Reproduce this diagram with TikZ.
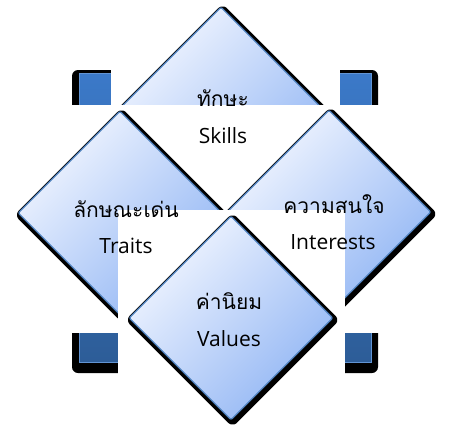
\documentclass[tikz,border=0pt]{standalone}
\usepackage{fontspec}
\setmainfont{Open Sans}
\newfontfamily\thaifont[Script=Thai]{Loma}
\usetikzlibrary{positioning}

\definecolor{tilelight}{HTML}{F2F6FF}
\definecolor{tiledark}{HTML}{92B6F4}
\definecolor{tileedge}{HTML}{4F81BD}
\definecolor{platetop}{HTML}{3B79C8}
\definecolor{platebottom}{HTML}{2D5D98}

\begin{document}
\begin{tikzpicture}[
    x=1pt, y=-1pt,
    tile/.style={rectangle, rotate=45, minimum size=144pt, inner sep=0pt,
        rounded corners=2pt, draw=tileedge, line width=1.3pt,
        top color=tilelight, bottom color=tiledark, shading angle=45,
        preaction={draw=black, fill=black, line width=7.5pt, line join=round,
            transform canvas={shift={(1.6pt,-2pt)}}}},
    blank/.style={fill=white, draw=none},
    thai/.style={font=\thaifont\fontsize{21}{24}\selectfont, inner sep=0pt, anchor=base},
    eng/.style={font=\fontsize{21}{24}\selectfont, inner sep=0pt, anchor=base}
]

% Frame
\fill[white] (0,0) rectangle (451,432);
\useasboundingbox (0,0) rectangle (451,432);

% Back plate
\fill[black, rounded corners=6pt] (72,70) rectangle (378,373);
\shade[top color=platetop, bottom color=platebottom, draw=platetop!80!white, line width=0.6pt]
    (79,73) rectangle (371,362);

% White cut-outs and tiles, back to front
\fill[blank] (111,62) rectangle (340,105);
\node[tile] (skills) at (221,109) {};
\fill[blank] (60,105) rectangle (392,333);
\node[tile] (traits) at (120,213) {};
\node[tile] (interests) at (329,212) {};
\fill[blank] (118,210) rectangle (345,376);
\node[tile] (values) at (231,318) {};

% Labels
\node[thai] (skillsTh) at (223,106) {ทักษะ};
\node[eng] (skillsEn) at (223,143) {Skills};
\node[thai] (traitsTh) at (126,217) {ลักษณะเด่น};
\node[eng] (traitsEn) at (126,253) {Traits};
\node[thai] (interestsTh) at (334,213) {ความสนใจ};
\node[eng] (interestsEn) at (333,249) {Interests};
\node[thai] (valuesTh) at (229,309) {ค่านิยม};
\node[eng] (valuesEn) at (229,346) {Values};

\end{tikzpicture}
\end{document}
